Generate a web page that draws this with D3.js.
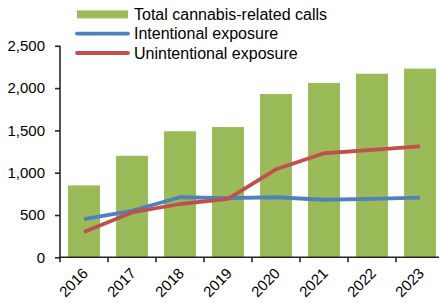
<!DOCTYPE html>
<html><head><meta charset="utf-8">
<script src="https://cdn.jsdelivr.net/npm/d3@7"></script>
<style>body{margin:0;background:#fff;}svg{display:block;font-family:"Liberation Sans",Arial,sans-serif;}</style>
</head><body><svg id="c" width="439" height="304"></svg>
<script>
const years = ["2016","2017","2018","2019","2020","2021","2022","2023"];
const totalCalls = [850, 1200, 1490, 1540, 1930, 2060, 2170, 2230];
const intentional = [450, 550, 710, 700, 710, 680, 690, 705];
const unintentional = [300, 530, 630, 690, 1040, 1230, 1270, 1310];
const yTicks = [0, 500, 1000, 1500, 2000, 2500];
const legendLabels = ["Total cannabis-related calls", "Intentional exposure", "Unintentional exposure"];

const svg = d3.select("#c");
const x = d3.scaleBand().domain(years).range([60, 444]).paddingInner(0.333).paddingOuter(0.1665);
const y = d3.scaleLinear().domain([0, 2500]).range([257.3, 45.8]);

const green = "#9BBB59", blue = "#4F81BD", red = "#C0504D", axisCol = "#262626";

svg.append("g").selectAll("rect").data(years).join("rect")
  .attr("x", d => x(d)).attr("width", x.bandwidth())
  .attr("y", (d,i) => y(totalCalls[i])).attr("height", (d,i) => y(0) - y(totalCalls[i]))
  .attr("fill", green);

const line = d3.line().x((d,i) => x(years[i]) + x.bandwidth()/2).y(d => y(d));
svg.append("path").datum(intentional).attr("d", line).attr("fill","none").attr("stroke", blue).attr("stroke-width", 3.8).attr("stroke-linejoin","round");
svg.append("path").datum(unintentional).attr("d", line).attr("fill","none").attr("stroke", red).attr("stroke-width", 3.8).attr("stroke-linejoin","round");

// y axis
const ya = svg.append("g").attr("transform","translate(60,0)")
  .call(d3.axisLeft(y).tickValues(yTicks).tickFormat(d3.format(",")).tickSize(5).tickPadding(10));
ya.select(".domain").attr("stroke", axisCol).attr("stroke-width", 1.6).attr("d", `M0,${y(0)}V${y(2500)}`);
ya.selectAll(".tick line").attr("stroke", axisCol).attr("stroke-width", 1.6);
ya.selectAll(".tick text").attr("font-size", 15).attr("fill", "#000").attr("font-family", "Liberation Sans, Arial, sans-serif");

// x axis
const xg = svg.append("g").attr("transform", `translate(0,${y(0)})`);
xg.append("line").attr("x1", 59).attr("x2", 444).attr("y1",0).attr("y2",0).attr("stroke", axisCol).attr("stroke-width", 1.6);
const step = x.step();
const bounds = d3.range(years.length + 1).map(i => 60 + i * step);
xg.selectAll("line.tk").data(bounds).join("line").attr("class","tk")
  .attr("x1", d => d).attr("x2", d => d).attr("y1", 0).attr("y2", 5)
  .attr("stroke", axisCol).attr("stroke-width", 1.6);
xg.selectAll("text").data(years).join("text")
  .attr("transform", d => `translate(${x(d) + x.bandwidth()/2 + 5},${17}) rotate(-45)`)
  .attr("text-anchor", "end").attr("font-size", 15).attr("fill", "#000")
  .text(d => d);

// legend
const lg = svg.append("g");
const rows = [14.4, 33.6, 53];
lg.append("rect").attr("x", 77).attr("y", rows[0]-4).attr("width", 51).attr("height", 8).attr("fill", green);
lg.append("line").attr("x1", 77).attr("x2", 128).attr("y1", rows[1]).attr("y2", rows[1]).attr("stroke", blue).attr("stroke-width", 3.8).attr("stroke-linecap","round");
lg.append("line").attr("x1", 77).attr("x2", 128).attr("y1", rows[2]).attr("y2", rows[2]).attr("stroke", red).attr("stroke-width", 3.8).attr("stroke-linecap","round");
lg.selectAll("text").data(legendLabels).join("text")
  .attr("x", 134).attr("y", (d,i) => rows[i]).attr("dy", "0.35em")
  .attr("font-size", 16).attr("fill", "#000").text(d => d);
</script></body></html>
